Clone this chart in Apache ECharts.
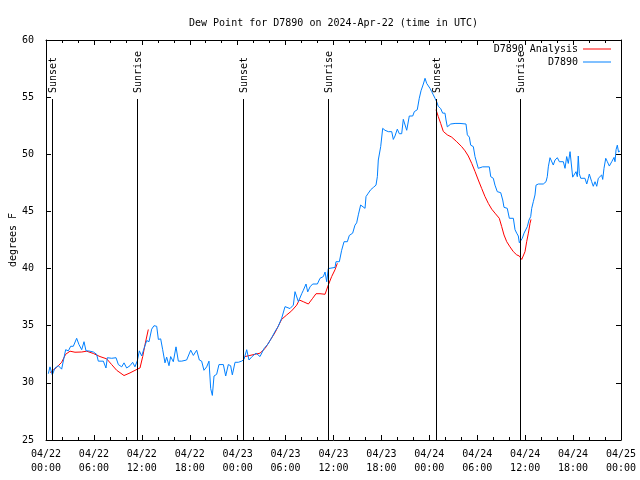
<!DOCTYPE html>
<html><head><meta charset="utf-8">
<script src="https://cdn.jsdelivr.net/npm/echarts@6/dist/echarts.min.js"></script>
<style>html,body{margin:0;padding:0;background:#fff}#c{width:640px;height:480px}</style>
</head><body><div id="c"></div>
<script>
const titleText = 'Dew Point for D7890 on 2024-Apr-22 (time in UTC)';
const yAxisName = 'degrees F';
const analysisName = 'D7890 Analysis';
const obsName = 'D7890';
// x: hours since 2024-04-22 00:00 UTC
const xTickLabels = ['04/22\n00:00','04/22\n06:00','04/22\n12:00','04/22\n18:00','04/23\n00:00','04/23\n06:00','04/23\n12:00','04/23\n18:00','04/24\n00:00','04/24\n06:00','04/24\n12:00','04/24\n18:00','04/25\n00:00'];
const X_MIN = 0, X_MAX = 72, X_STEP = 6;
const Y_MIN = 25, Y_MAX = 60, Y_STEP = 5;
const sunEventHours = [0.70, 11.40, 24.72, 35.37, 48.80, 59.30];
const sunEventLabels = ['Sunset','Sunrise','Sunset','Sunrise','Sunset','Sunrise'];

const analysisData = [
[0.50,30.9],[1.34,31.35],[1.96,31.8],[2.46,32.5],[3.01,32.77],[3.63,32.68],[4.47,32.7],[5.09,32.77],[5.93,32.57],[6.76,32.3],[7.60,32.1],[8.22,31.6],[8.85,31.1],[9.77,30.64],[10.52,30.87],[11.44,31.2],[11.77,31.3],[12.11,32.3],[12.40,33.35],[12.81,34.67],
[13.5,null],
[24.92,32.3],[25.54,32.4],[26.17,32.5],[26.80,32.6],[27.42,33.0],[28.05,33.7],[28.68,34.4],[29.51,35.56],[30.14,35.94],[30.76,36.3],[31.39,36.8],[31.72,37.25],[32.22,37.1],[32.85,36.9],[33.39,37.4],[33.81,37.8],[34.31,37.8],[34.94,37.75],[35.35,38.56],[35.77,39.3],[36.19,39.9],[36.48,40.46],
[37.0,null],
[48.84,53.9],[49.12,53.3],[49.42,52.7],[49.75,52.0],[50.25,51.7],[50.80,51.5],[51.43,51.1],[52.05,50.67],[52.47,50.3],[52.88,49.85],[53.31,49.2],[53.72,48.5],[54.13,47.75],[54.56,47.0],[54.97,46.3],[55.39,45.7],[55.81,45.2],[56.22,44.85],[56.76,44.4],[57.06,43.67],[57.35,42.94],[57.69,42.35],[58.10,41.9],[58.52,41.48],[58.94,41.2],[59.27,41.1],[59.57,40.8],[59.77,40.75],[59.98,41.48],[60.19,42.35],[60.40,43.1],[60.61,43.96],[60.73,44.3]
];

const obsData = [
[0.29,30.8],[0.50,31.4],[0.79,30.7],[1.13,31.3],[1.54,31.5],[1.96,31.2],[2.17,31.2],[2.46,32.9],[2.80,32.8],[3.09,33.2],[3.42,33.2],[3.63,33.35],[3.84,33.9],[4.13,33.35],[4.47,32.9],[4.76,33.6],[5.01,32.8],[5.30,32.8],[5.93,32.7],[6.34,32.5],[6.55,31.9],[7.18,31.9],[7.51,31.3],[7.68,32.2],[8.22,32.15],[8.77,32.2],[9.06,31.6],[9.48,31.4],[9.77,31.75],[10.10,31.3],[10.52,31.5],[10.85,31.8],[11.14,31.4],[11.44,31.95],[11.69,32.8],[11.98,32.35],[12.27,33.0],[12.61,33.7],[12.90,33.6],[13.23,34.7],[13.52,35.0],[13.86,34.95],[14.07,33.8],[14.36,33.85],[14.61,32.9],[14.90,31.75],[15.11,32.25],[15.40,31.5],[15.61,32.3],[15.94,31.85],[16.28,33.15],[16.57,31.9],[16.99,31.9],[17.61,32.0],[18.12,32.86],[18.45,32.4],[18.87,32.86],[19.20,32.0],[19.49,31.9],[19.78,31.1],[20.12,31.4],[20.41,31.9],[20.62,29.5],[20.83,28.9],[21.04,30.6],[21.37,30.75],[21.66,31.6],[22.21,31.6],[22.50,30.6],[22.83,31.6],[23.12,31.5],[23.33,30.7],[23.67,31.8],[24.08,31.8],[24.50,31.9],[24.79,32.05],[25.13,32.9],[25.42,32.0],[25.80,32.3],[26.30,32.6],[26.80,32.3],[27.30,33.0],[27.80,33.4],[28.30,34.0],[28.68,34.5],[29.05,34.9],[29.51,35.65],[29.93,36.67],[30.14,36.7],[30.55,36.5],[30.97,36.8],[31.18,37.98],[31.39,38.05],[31.60,37.1],[32.02,37.8],[32.22,38.1],[32.56,38.65],[32.77,37.96],[33.06,38.4],[33.39,38.65],[33.98,38.65],[34.31,39.15],[34.73,39.3],[34.94,39.7],[35.15,38.85],[35.35,40.0],[35.56,40.1],[36.19,40.1],[36.31,40.6],[36.73,40.6],[37.02,41.6],[37.32,42.35],[37.73,42.35],[37.98,42.9],[38.40,43.1],[38.69,43.8],[38.90,44.0],[39.11,44.7],[39.40,45.56],[39.65,45.56],[39.95,45.27],[40.07,46.3],[40.36,46.6],[40.66,46.9],[40.99,47.1],[41.32,47.3],[41.49,48.04],[41.61,49.5],[41.91,50.67],[42.16,52.27],[42.45,52.1],[42.86,51.98],[43.29,51.98],[43.49,51.3],[43.70,51.6],[43.99,52.2],[44.24,51.8],[44.54,51.8],[44.74,53.06],[44.95,53.0],[45.17,52.1],[45.49,53.35],[45.92,53.35],[46.12,53.73],[46.49,53.9],[46.74,54.9],[46.96,55.56],[47.25,56.15],[47.46,56.65],[47.67,56.2],[47.87,56.15],[48.08,55.77],[48.30,55.48],[48.50,55.2],[48.71,54.9],[48.92,54.6],[49.12,54.2],[49.42,54.0],[49.67,53.6],[49.96,53.6],[50.09,53.0],[50.25,52.4],[50.50,52.4],[50.68,52.65],[51.22,52.7],[51.84,52.7],[52.59,52.65],[52.76,51.7],[53.01,51.5],[53.18,50.8],[53.51,50.67],[53.72,49.8],[53.93,49.7],[54.13,48.77],[54.35,48.7],[54.68,48.9],[55.51,48.9],[55.69,48.04],[56.01,47.9],[56.22,47.3],[56.51,46.73],[56.94,46.64],[57.19,46.0],[57.35,45.36],[57.76,45.27],[58.02,44.4],[58.52,44.4],[58.73,43.4],[58.94,43.1],[59.14,42.85],[59.27,42.26],[59.44,42.15],[59.64,42.65],[59.86,43.1],[60.07,43.1],[60.27,43.67],[60.48,44.25],[60.69,44.54],[60.82,45.27],[61.02,45.85],[61.23,46.44],[61.36,47.3],[61.65,47.4],[62.27,47.4],[62.61,47.6],[62.77,48.04],[62.90,48.9],[63.11,49.7],[63.32,49.85],[63.52,49.06],[63.74,49.5],[64.03,49.7],[64.28,49.35],[64.78,49.35],[64.99,48.77],[65.20,49.8],[65.40,49.2],[65.62,50.23],[65.83,50.4],[65.95,48.0],[66.12,48.0],[66.37,48.48],[66.53,48.04],[66.65,49.85],[66.78,48.3],[66.96,47.9],[67.49,47.9],[67.71,47.4],[67.91,47.9],[68.03,48.27],[68.33,47.6],[68.53,47.2],[68.75,47.6],[68.96,47.2],[69.16,47.9],[69.37,47.75],[69.58,48.19],[69.71,47.8],[69.87,48.77],[70.09,49.65],[70.29,49.35],[70.54,48.97],[70.84,49.35],[71.13,49.73],[71.25,49.35],[71.38,50.4],[71.54,50.8],[71.69,50.2],[71.88,50.3]
];

const FONT = 'DejaVu Sans Mono';
const txt = {fontFamily: FONT, fontSize: 10, color: '#000'};
const chart = echarts.init(document.getElementById('c'), null, {renderer: 'canvas'});

function xAxisCfg(pos, showLabels) {
  return {
    type: 'value', position: pos, min: X_MIN, max: X_MAX, interval: X_STEP,
    axisLine: {show: true, onZero: false, lineStyle: {color: '#000', width: 1}},
    axisTick: {show: true, inside: true, length: 5, lineStyle: {color: '#000'}},
    minorTick: {show: true, splitNumber: 3, length: 3, lineStyle: {color: '#000'}},
    splitLine: {show: false},
    axisLabel: {show: showLabels, ...txt, lineHeight: 14, margin: 7,
      formatter: v => xTickLabels[Math.round((v - X_MIN) / X_STEP)] || ''}
  };
}
function yAxisCfg(pos, showLabels) {
  const c = {
    type: 'value', position: pos, min: Y_MIN, max: Y_MAX, interval: Y_STEP,
    axisLine: {show: true, onZero: false, lineStyle: {color: '#000', width: 1}},
    axisTick: {show: true, inside: true, length: 5, lineStyle: {color: '#000'}},
    splitLine: {show: false},
    axisLabel: {show: showLabels, ...txt, margin: 12}
  };
  if (showLabels) {
    c.name = yAxisName; c.nameLocation = 'middle'; c.nameGap = 28;
    c.nameMoveOverlap = false;
    c.nameTextStyle = {...txt};
  }
  return c;
}

const option = {
  animation: false,
  backgroundColor: '#fff',
  title: {text: titleText, left: 184, top: 13,
    textStyle: {fontFamily: FONT, fontSize: 10, fontWeight: 'normal', color: '#000'}},
  legend: {data: [analysisName, obsName], orient: 'vertical', right: 29, top: 44, padding: 0,
    align: 'right', icon: 'rect', itemWidth: 28, itemHeight: 1, itemGap: 3,
    textStyle: {...txt, lineHeight: 10, height: 10}},
  grid: {left: 46, right: 19, top: 40, bottom: 40, containLabel: false, outerBoundsMode: 'none'},
  xAxis: [xAxisCfg('bottom', true), xAxisCfg('top', false)],
  yAxis: [yAxisCfg('left', true), yAxisCfg('right', false)],
  series: [
    {name: analysisName, type: 'line', data: analysisData, symbol: 'none', showSymbol: false,
      connectNulls: false, lineStyle: {color: '#ff0000', width: 1}, itemStyle: {color: '#ff0000'}, z: 2},
    {name: obsName, type: 'line', data: obsData, symbol: 'none', showSymbol: false,
      lineStyle: {color: '#0080ff', width: 1}, itemStyle: {color: '#0080ff'}, z: 3},
    {type: 'custom', silent: true, z: 4,
      data: sunEventHours.map(h => [h, Y_MIN]),
      renderItem: function (params, api) {
        const h = api.value(0);
        const top = api.coord([h, Y_MAX]);
        const bot = api.coord([h, Y_MIN]);
        const xp = Math.round(top[0]) + 0.5;
        return {type: 'group', children: [
          {type: 'line', shape: {x1: xp, y1: top[1] + 59, x2: xp, y2: bot[1]},
            style: {stroke: '#000', lineWidth: 1}},
          {type: 'text', x: xp + 1, y: top[1] + 53, rotation: Math.PI / 2,
            style: {text: sunEventLabels[params.dataIndex], fill: '#000',
              font: '10px ' + FONT, align: 'left', verticalAlign: 'middle'}}
        ]};
      }}
  ]
};
chart.setOption(option);
</script></body></html>
